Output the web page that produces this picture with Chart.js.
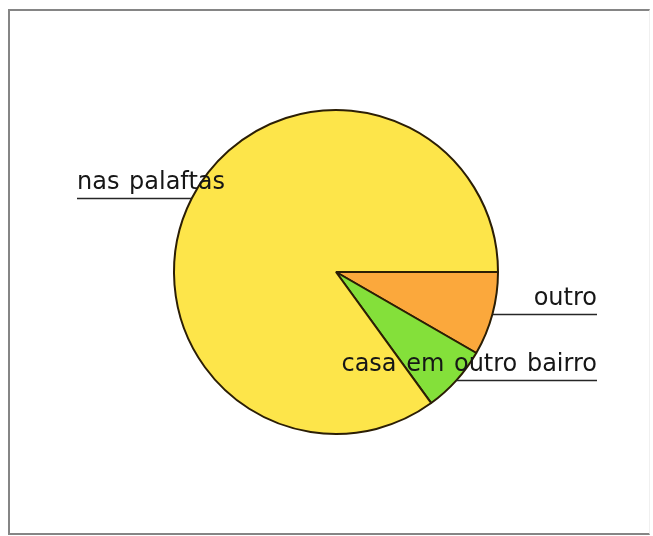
<!DOCTYPE html>
<html>
<head>
<meta charset="utf-8">
<script src="https://cdn.jsdelivr.net/npm/chart.js@4.4.1/dist/chart.umd.min.js"></script>
<style>
  html, body { margin: 0; padding: 0; background: #fff; }
  #wrap { position: relative; width: 653px; height: 536px; }
  #frame {
    position: absolute; left: 8px; top: 9px; width: 639px; height: 522px;
    border-top: 2px solid #858585; border-left: 2px solid #858585;
    border-bottom: 2px solid #858585; border-right: 1px solid #f0f0f0;
  }
  canvas { position: absolute; left: 0; top: 0; }
</style>
</head>
<body>
<div id="wrap">
  <div id="frame"></div>
  <canvas id="pieChart" width="653" height="536"></canvas>
</div>
<script>
// slices in drawing order, clockwise from 3 o'clock
const labels = ["outro", "casa em outro bairro", "nas palafitas"];
const counts = [5, 4, 51];
const colors = ["#fba83c", "#84e03a", "#fde54a"];
const labelText = ["outro", "casa em outro bairro", "nas palaftas"];

// leader lines: from the middle of each arc out to a fixed column, text on top
const leaderLabels = {
  id: "leaderLabels",
  afterDatasetsDraw(chart, args, opts) {
    const ctx = chart.ctx;
    const arcs = chart.getDatasetMeta(0).data;
    ctx.save();
    ctx.font = opts.font;
    if ("wordSpacing" in ctx) ctx.wordSpacing = "2px";
    ctx.fillStyle = "#161616";
    ctx.strokeStyle = "#262626";
    ctx.lineWidth = 1.7;
    arcs.forEach((arc, i) => {
      const p = arc.getProps(["x", "y", "startAngle", "endAngle", "outerRadius"], true);
      const mid = (p.startAngle + p.endAngle) / 2;
      const ax = p.x + Math.cos(mid) * p.outerRadius;
      const ay = Math.round(p.y + Math.sin(mid) * p.outerRadius) + 0.5;
      const right = Math.cos(mid) >= 0;
      const endX = right ? opts.rightX : opts.leftX;
      ctx.beginPath();
      ctx.moveTo(ax, ay);
      ctx.lineTo(endX, ay);
      ctx.stroke();
      ctx.textAlign = right ? "right" : "left";
      ctx.textBaseline = "alphabetic";
      ctx.fillText(labelText[i], endX, ay - 10);
    });
    ctx.restore();
  }
};

new Chart(document.getElementById("pieChart"), {
  type: "pie",
  data: {
    labels: labels,
    datasets: [{
      data: counts,
      backgroundColor: colors,
      borderColor: "#2b1e05",
      borderWidth: 2,
      hoverOffset: 0
    }]
  },
  options: {
    responsive: false,
    animation: false,
    rotation: 90,
    layout: { padding: { left: 173, right: 154, top: 109, bottom: 101 } },
    plugins: {
      legend: { display: false },
      tooltip: { enabled: false },
      leaderLabels: { font: "24px 'DejaVu Sans'", leftX: 77, rightX: 597 }
    }
  },
  plugins: [leaderLabels]
});
</script>
</body>
</html>
